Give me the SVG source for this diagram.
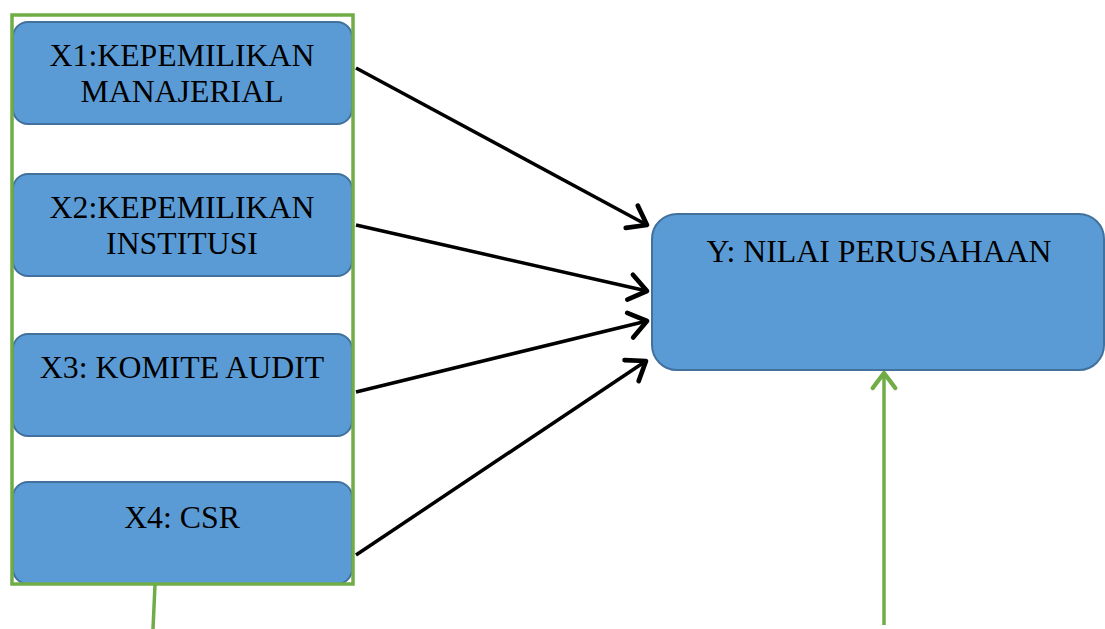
<svg xmlns="http://www.w3.org/2000/svg" width="1105" height="629" viewBox="0 0 1105 629">
<style>
.box{fill:#5b9bd5;stroke:#41719c;stroke-width:2}
.lbl{font-family:"Liberation Serif","Times New Roman",serif;font-size:31.8px;fill:#000;text-anchor:middle}
.conn{stroke:#000;stroke-width:3.5;fill:none}
.green{stroke:#70ad47;stroke-width:3.5;fill:none}
</style>
<defs>
<marker id="ab" markerUnits="userSpaceOnUse" markerWidth="32" markerHeight="32" refX="20" refY="12" orient="auto" viewBox="0 0 24 24">
<path d="M7,2.5 L20,12 L7,21.5" fill="none" stroke="#000" stroke-width="3.5" stroke-linecap="round" stroke-linejoin="round"/>
</marker>
<marker id="ag" markerUnits="userSpaceOnUse" markerWidth="30" markerHeight="30" refX="20" refY="12" orient="auto" viewBox="0 0 24 24">
<path d="M8,3 L20,12 L8,21" fill="none" stroke="#70ad47" stroke-width="3.5" stroke-linecap="round" stroke-linejoin="round"/>
</marker>
</defs>
<rect width="1105" height="629" fill="#fff"/>
<g id="x1">
<rect class="box" x="13" y="22" width="339" height="102" rx="15"/>
<text class="lbl" x="182" y="66">X1:KEPEMILIKAN</text>
<text class="lbl" x="182" y="102">MANAJERIAL</text>
</g>
<g id="x2">
<rect class="box" x="13" y="174" width="339" height="102" rx="15"/>
<text class="lbl" x="182" y="218">X2:KEPEMILIKAN</text>
<text class="lbl" x="182" y="254">INSTITUSI</text>
</g>
<g id="x3">
<rect class="box" x="13" y="334" width="339" height="102" rx="15"/>
<text class="lbl" x="182" y="378">X3: KOMITE AUDIT</text>
</g>
<g id="x4">
<rect class="box" x="13" y="482" width="339" height="102" rx="15"/>
<text class="lbl" x="182" y="528">X4: CSR</text>
</g>
<g id="group">
<rect x="12" y="15" width="341" height="569" class="green"/>
</g>
<g id="y">
<rect class="box" x="652" y="214" width="452" height="156" rx="25"/>
<text class="lbl" x="879" y="262">Y: NILAI PERUSAHAAN</text>
</g>
<g id="connectors">
<line class="conn" x1="356" y1="68" x2="647" y2="225" marker-end="url(#ab)"/>
<line class="conn" x1="356" y1="225" x2="647" y2="291" marker-end="url(#ab)"/>
<line class="conn" x1="356" y1="392" x2="647" y2="321" marker-end="url(#ab)"/>
<line class="conn" x1="356" y1="555" x2="646" y2="361" marker-end="url(#ab)"/>
<line class="green" x1="155" y1="585" x2="153" y2="629"/>
<line class="green" x1="884" y1="625" x2="884" y2="373" marker-end="url(#ag)"/>
</g>
</svg>
